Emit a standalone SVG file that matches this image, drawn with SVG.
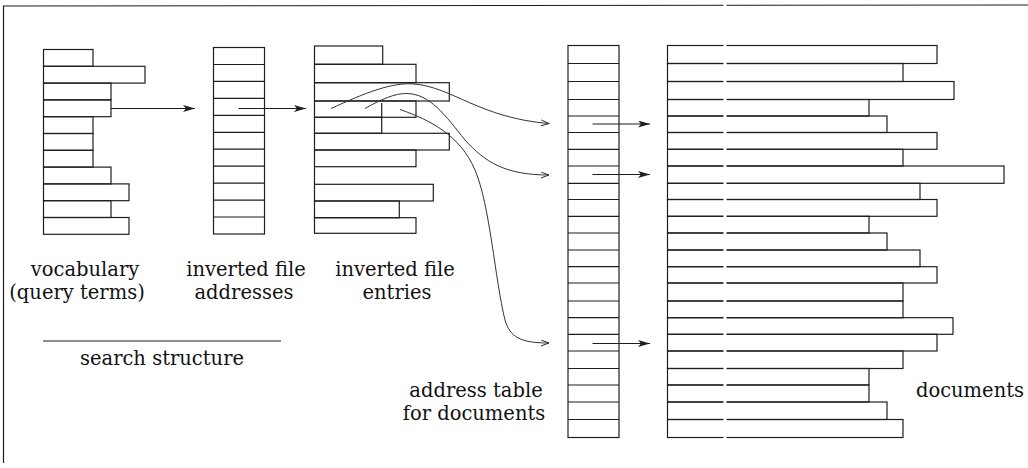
<svg xmlns="http://www.w3.org/2000/svg" width="1028" height="468" viewBox="0 0 1028 468">
  <style>
    .box { fill: none; stroke: #1e1e1e; stroke-width: 1.2; }
    .rule { stroke: #1e1e1e; stroke-width: 1.2; fill: none; }
    .arrow { stroke: #1e1e1e; stroke-width: 1.2; fill: none; }
    .curve { stroke: #333; stroke-width: 1; fill: none; }
    .lbl { font-family: "DejaVu Serif", "Liberation Serif", serif; font-size: 19.5px; fill: #111; text-anchor: middle; }
  </style>
  <defs>
    <marker id="dart" markerUnits="userSpaceOnUse" viewBox="0 0 12 7" refX="12" refY="3.5" markerWidth="12" markerHeight="7" orient="auto">
      <path d="M0,0 L12,3.5 L0,7 L3,3.5 Z" fill="#1e1e1e"/>
    </marker>
    <marker id="hook" markerUnits="userSpaceOnUse" viewBox="0 0 10 7" refX="9" refY="3.5" markerWidth="10" markerHeight="7" orient="auto">
      <path d="M1,0.5 L9,3.5 L1,6.5" fill="none" stroke="#333" stroke-width="1"/>
    </marker>
  </defs>

  <rect width="1028" height="468" fill="#fff"/>

  <!-- outer frame (top and left sides only) -->
  <g id="frame">
    <path class="rule" d="M3.5,463 L3.5,6 L1028,5"/>
  </g>

  <!-- search structure: vocabulary -->
  <g id="vocabulary">
    <rect class="box" x="43.5" y="49.5" width="49.5" height="16.8"/>
    <rect class="box" x="43.5" y="66.3" width="101.5" height="16.8"/>
    <rect class="box" x="43.5" y="83.1" width="67.5" height="16.8"/>
    <rect class="box" x="43.5" y="99.9" width="67.5" height="16.8"/>
    <rect class="box" x="43.5" y="116.7" width="49.5" height="16.8"/>
    <rect class="box" x="43.5" y="133.5" width="49.5" height="16.8"/>
    <rect class="box" x="43.5" y="150.3" width="49.5" height="16.8"/>
    <rect class="box" x="43.5" y="167.1" width="67.5" height="16.8"/>
    <rect class="box" x="43.5" y="183.9" width="85.5" height="16.8"/>
    <rect class="box" x="43.5" y="200.7" width="67.5" height="16.8"/>
    <rect class="box" x="43.5" y="217.5" width="85.5" height="16.8"/>
    <text class="lbl" x="85" y="276">vocabulary</text>
    <text class="lbl" x="77" y="299">(query terms)</text>
  </g>

  <!-- search structure: inverted file addresses -->
  <g id="addresses">
    <rect class="box" x="213.5" y="47.5" width="51" height="186.5"/>
    <path class="rule" d="M213.5,64.5 H264.5 M213.5,81.4 H264.5 M213.5,98.4 H264.5 M213.5,115.3 H264.5 M213.5,132.3 H264.5 M213.5,149.2 H264.5 M213.5,166.2 H264.5 M213.5,183.1 H264.5 M213.5,200.1 H264.5 M213.5,217 H264.5"/>
    <text class="lbl" x="246" y="276">inverted file</text>
    <text class="lbl" x="244" y="299">addresses</text>
  </g>

  <!-- inverted file entries -->
  <g id="entries">
    <rect class="box" x="314.5" y="46" width="68.2" height="18.3"/>
    <rect class="box" x="314.5" y="64.3" width="101.5" height="18.4"/>
    <rect class="box" x="314.5" y="82.7" width="134.8" height="18.3"/>
    <rect class="box" x="314.5" y="101" width="101.5" height="16.3"/>
    <rect class="box" x="314.5" y="117.3" width="67.2" height="16"/>
    <rect class="box" x="314.5" y="133.3" width="134.8" height="16.7"/>
    <rect class="box" x="314.5" y="150" width="101.5" height="16.7"/>
    <path class="rule" d="M314.5,166.7 V184.3 M381.7,103 V117.3"/>
    <rect class="box" x="314.5" y="184.3" width="118.8" height="16.7"/>
    <rect class="box" x="314.5" y="201" width="84.8" height="16.7"/>
    <rect class="box" x="314.5" y="217.7" width="101.5" height="15.6"/>
    <text class="lbl" x="395" y="276">inverted file</text>
    <text class="lbl" x="397" y="299">entries</text>
  </g>

  <!-- search structure caption -->
  <g id="search-structure">
    <path class="rule" d="M43,341 H281"/>
    <text class="lbl" x="162" y="365">search structure</text>
  </g>

  <!-- address table for documents -->
  <g id="address-table">
    <rect class="box" x="568" y="45.5" width="51" height="392"/>
    <path class="rule" d="M568,63.5 H619 M568,81.5 H619 M568,99.5 H619 M568,116 H619 M568,132.5 H619 M568,149.3 H619 M568,166 H619 M568,183.3 H619 M568,199.5 H619 M568,216.3 H619 M568,233 H619 M568,250 H619 M568,266.7 H619 M568,283 H619 M568,301 H619 M568,317.7 H619 M568,334.3 H619 M568,351 H619 M568,368.5 H619 M568,385 H619 M568,402 H619 M568,419.5 H619"/>
    <text class="lbl" x="476" y="397">address table</text>
    <text class="lbl" x="474" y="420">for documents</text>
  </g>

  <!-- documents -->
  <g id="documents">
    <rect class="box" x="667.5" y="45.5" width="269.5" height="18"/>
    <rect class="box" x="667.5" y="63.5" width="235.5" height="18"/>
    <rect class="box" x="667.5" y="81.5" width="286.5" height="18"/>
    <rect class="box" x="667.5" y="99.5" width="201.5" height="16.5"/>
    <rect class="box" x="667.5" y="116" width="219.5" height="16.5"/>
    <rect class="box" x="667.5" y="132.5" width="269.5" height="16.8"/>
    <rect class="box" x="667.5" y="149.3" width="235.5" height="16.7"/>
    <rect class="box" x="667.5" y="166" width="336.5" height="17.3"/>
    <rect class="box" x="667.5" y="183.3" width="252.5" height="16.2"/>
    <rect class="box" x="667.5" y="199.5" width="269.5" height="16.8"/>
    <rect class="box" x="667.5" y="216.3" width="201.5" height="16.7"/>
    <rect class="box" x="667.5" y="233" width="219.5" height="17"/>
    <rect class="box" x="667.5" y="250" width="252.5" height="16.7"/>
    <rect class="box" x="667.5" y="266.7" width="269.5" height="16.3"/>
    <rect class="box" x="667.5" y="283" width="235.5" height="18"/>
    <rect class="box" x="667.5" y="301" width="235.5" height="16.7"/>
    <rect class="box" x="667.5" y="317.7" width="285.5" height="16.6"/>
    <rect class="box" x="667.5" y="334.3" width="269.5" height="16.7"/>
    <rect class="box" x="667.5" y="351" width="235.5" height="17.5"/>
    <rect class="box" x="667.5" y="368.5" width="201.5" height="16.5"/>
    <rect class="box" x="667.5" y="385" width="201.5" height="17"/>
    <rect class="box" x="667.5" y="402" width="219.5" height="17.5"/>
    <rect class="box" x="667.5" y="419.5" width="235.5" height="18"/>
    <text class="lbl" x="970" y="397">documents</text>
  </g>

  <!-- pointers between the structures -->
  <g id="connectors">
    <path class="arrow" d="M111,108.5 H195" marker-end="url(#dart)"/>
    <path class="arrow" d="M238.5,108.5 H306" marker-end="url(#dart)"/>
    <path class="curve" d="M331,108.5 C365,93 392,82 414,84 C452,87 480,118 549,123.5" marker-end="url(#hook)"/>
    <path class="curve" d="M365,108.5 C380,100 395,93 407,93.5 C430,94 445,115 465,140 C485,162 505,175 549,175" marker-end="url(#hook)"/>
    <path class="curve" d="M400,109.5 C430,120 460,135 475,170 C490,205 495,280 505,320 C510,337 520,343 549,343" marker-end="url(#hook)"/>
    <path class="arrow" d="M592.5,124 H650" marker-end="url(#dart)"/>
    <path class="arrow" d="M592.5,174.5 H650" marker-end="url(#dart)"/>
    <path class="arrow" d="M592.5,343.5 H650" marker-end="url(#dart)"/>
  </g>

  <!-- thin blank seam crossing the top rule and the document lines -->
  <rect x="723.5" y="0" width="3" height="445" fill="#fff"/>
</svg>
